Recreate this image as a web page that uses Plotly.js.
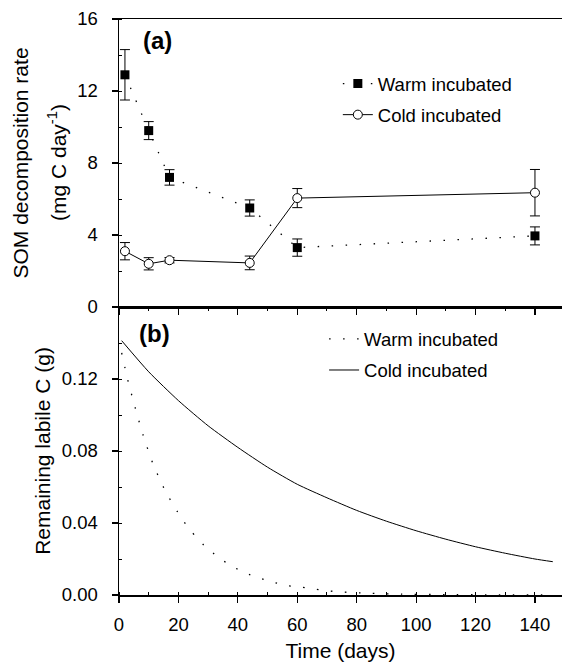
<!DOCTYPE html>
<html><head><meta charset="utf-8">
<script src="https://cdn.plot.ly/plotly-3.0.1.min.js"></script>
<style>html,body{margin:0;padding:0;background:#fff}</style>
</head><body><div id="chart" style="width:562px;height:662px"></div>
<script>
// Panel (a): SOM decomposition rate (mg C day^-1)
const rateDays = [2, 10, 17, 44, 60, 140];
const warmRate = [12.9, 9.8, 7.2, 5.5, 3.3, 3.95];
const warmRateErr = [1.4, 0.5, 0.43, 0.45, 0.48, 0.5];
const coldRate = [3.1, 2.4, 2.6, 2.45, 6.05, 6.35];
const coldRateErr = [0.48, 0.34, 0.15, 0.38, 0.53, 1.29];

// Panel (b): remaining labile C (g)
const warmLabileDays = [0.9, 2.9, 5.4, 8.1, 11.3, 15.5, 20.9, 24.3, 28.6, 33.3, 37.9, 42.6, 47.4, 51.9, 56.6, 61.5, 66, 71, 75.7, 85, 95, 110, 125, 146];
const warmLabile = [0.1345, 0.1198, 0.1043, 0.0889, 0.0735, 0.0581, 0.043, 0.0354, 0.0276, 0.0211, 0.0161, 0.0122, 0.0094, 0.0071, 0.0052, 0.0043, 0.0032, 0.0022, 0.0016, 0.0009, 0.0005, 0.0002, 0.0001, 0.0];
const coldLabileDays = [0.9, 10, 20, 30, 40, 50, 60, 70, 80, 90, 100, 110, 120, 130, 140, 146];
const coldLabile = [0.1413, 0.124, 0.108, 0.094, 0.082, 0.071, 0.0615, 0.054, 0.047, 0.041, 0.0357, 0.031, 0.0268, 0.0232, 0.0200, 0.0185];

const seriesNames = ['Warm incubated', 'Cold incubated'];
const panelLabels = ['(a)', '(b)'];
const xTicks = [0, 20, 40, 60, 80, 100, 120, 140];
const rateTicks = [0, 4, 8, 12, 16];
const labileTicks = [0, 0.04, 0.08, 0.12];

const FONT = 'Liberation Sans, Arial, Helvetica, sans-serif';
const INK = '#000';
const DOT = '1.5px,12.5px';

const traces = [
  {
    x: rateDays, y: warmRate, name: seriesNames[0], type: 'scatter', mode: 'lines+markers',
    xaxis: 'x', yaxis: 'y', legend: 'legend', legendgroup: 'w1',
    line: {color: INK, width: 1.3, dash: DOT},
    marker: {symbol: 'square', size: 9, color: INK},
    error_y: {type: 'data', array: warmRateErr, visible: true, color: INK, thickness: 1, width: 5}
  },
  {
    x: rateDays, y: coldRate, name: seriesNames[1], type: 'scatter', mode: 'lines+markers',
    xaxis: 'x', yaxis: 'y', legend: 'legend', legendgroup: 'c1',
    line: {color: INK, width: 1},
    marker: {symbol: 'circle', size: 9, color: '#fff', line: {color: INK, width: 1}},
    error_y: {type: 'data', array: coldRateErr, visible: true, color: INK, thickness: 1, width: 5}
  },
  {
    x: warmLabileDays, y: warmLabile, name: seriesNames[0], type: 'scatter', mode: 'lines',
    xaxis: 'x2', yaxis: 'y2', legend: 'legend2', legendgroup: 'w2',
    line: {color: INK, width: 1.3, dash: DOT, shape: 'spline', smoothing: 0.6}
  },
  {
    x: coldLabileDays, y: coldLabile, name: seriesNames[1], type: 'scatter', mode: 'lines',
    xaxis: 'x2', yaxis: 'y2', legend: 'legend2', legendgroup: 'c2',
    line: {color: INK, width: 1, shape: 'spline', smoothing: 0.6}
  }
];

const tickFont = {family: FONT, size: 18.5, color: INK};
const titleFont = {family: FONT, size: 21, color: INK};

const baseX = {
  range: [0, 149.1], showgrid: false, zeroline: false,
  showline: true, linecolor: INK, linewidth: 1.5, mirror: true,
  ticks: 'outside', ticklen: 6, tickwidth: 1.2, tickcolor: INK,
  tickvals: xTicks, ticklabelstandoff: 6,
  minor: {dtick: 10, ticks: 'inside', ticklen: 3, tickwidth: 1, tickcolor: INK},
  tickfont: tickFont, automargin: false
};

const layout = {
  width: 562, height: 662,
  margin: {l: 119, r: 0, t: 19, b: 67, pad: 0},
  paper_bgcolor: '#fff', plot_bgcolor: '#fff',
  font: {family: FONT, color: INK},
  showlegend: true,
  xaxis: Object.assign({}, baseX, {domain: [0, 1], anchor: 'y', showticklabels: false,
    minor: {dtick: 10, ticks: 'outside', ticklen: 2, tickwidth: 1, tickcolor: INK}}),
  yaxis: {
    domain: [0.5, 1], anchor: 'x', range: [0, 16], tickvals: rateTicks,
    showgrid: false, zeroline: false, showline: true, linecolor: INK, linewidth: 1.5,
    ticks: 'outside', ticklen: 6, tickwidth: 1.2, tickcolor: INK, ticklabelstandoff: 10,
    minor: {dtick: 2, ticks: 'inside', ticklen: 3, tickwidth: 1, tickcolor: INK},
    tickfont: tickFont, automargin: false,
    title: {text: 'SOM decomposition rate', font: titleFont, standoff: 43}
  },
  xaxis2: Object.assign({}, baseX, {domain: [0, 1], anchor: 'y2',
    title: {text: 'Time (days)', font: titleFont, standoff: 13}}),
  yaxis2: {
    domain: [0, 0.5], anchor: 'x2', range: [0, 0.16], tickvals: labileTicks, tickformat: '.2f',
    showgrid: false, zeroline: false, showline: true, linecolor: INK, linewidth: 1.5,
    ticks: 'outside', ticklen: 6, tickwidth: 1.2, tickcolor: INK, ticklabelstandoff: 10,
    minor: {dtick: 0.02, ticks: 'inside', ticklen: 3, tickwidth: 1, tickcolor: INK},
    tickfont: tickFont, automargin: false,
    title: {text: 'Remaining labile C (g)', font: titleFont, standoff: 5}
  },
  legend: {
    x: 0.494, y: 0.920, xanchor: 'left', yanchor: 'top',
    bgcolor: 'rgba(0,0,0,0)', borderwidth: 0,
    font: {family: FONT, size: 18.5, color: INK},
    traceorder: 'grouped', tracegroupgap: 4, itemwidth: 30
  },
  legend2: {
    x: 0.463, y: 0.4767, xanchor: 'left', yanchor: 'top',
    bgcolor: 'rgba(0,0,0,0)', borderwidth: 0,
    font: {family: FONT, size: 18.5, color: INK},
    traceorder: 'grouped', tracegroupgap: 4, itemwidth: 30
  },
  annotations: [
    {text: '(mg C day<sup>-1</sup>)', textangle: -90, xref: 'paper', yref: 'paper',
     x: (57 - 119) / 443, y: 0.75, xanchor: 'center', yanchor: 'middle', showarrow: false,
     font: titleFont},
    {text: '<b>' + panelLabels[0] + '</b>', xref: 'paper', yref: 'paper',
     x: (157 - 119) / 443, y: (595 - 40) / 576, xanchor: 'center', yanchor: 'middle',
     showarrow: false, font: {family: FONT, size: 24, color: INK}},
    {text: '<b>' + panelLabels[1] + '</b>', xref: 'paper', yref: 'paper',
     x: (154 - 119) / 443, y: (595 - 333) / 576, xanchor: 'center', yanchor: 'middle',
     showarrow: false, font: {family: FONT, size: 24, color: INK}}
  ]
};

Plotly.newPlot('chart', traces, layout, {displayModeBar: false, staticPlot: true});
</script>
</body></html>
